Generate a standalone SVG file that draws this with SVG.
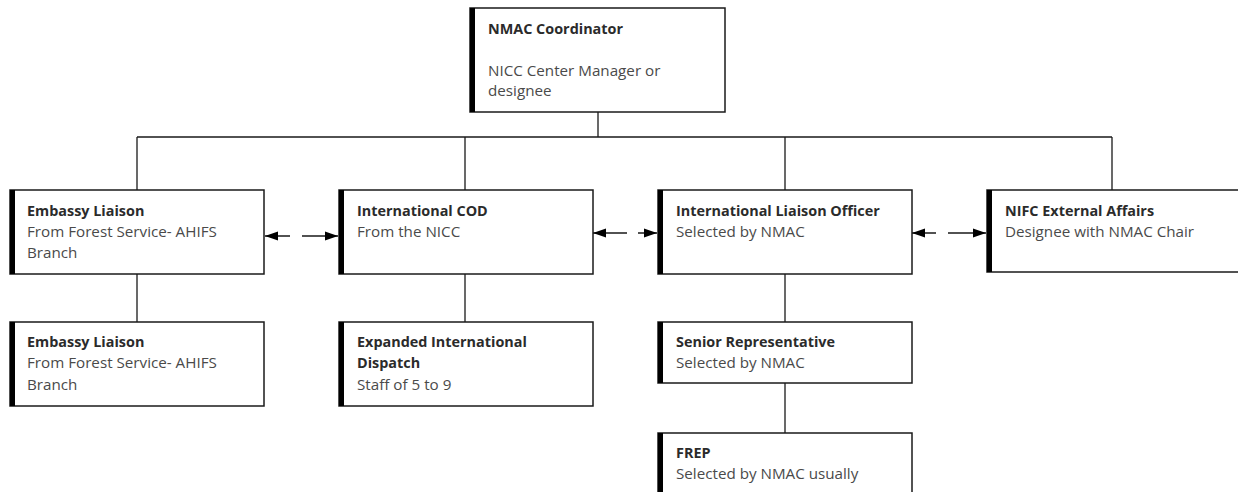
<svg xmlns="http://www.w3.org/2000/svg" width="1238" height="492" viewBox="0 0 1238 492">
<style>
.box{fill:#fff;stroke:#1a1a1a;stroke-width:1.5}
.bar{stroke:#000;stroke-width:5}
.t{font-family:"Open Sans","Liberation Sans",sans-serif;font-size:14.4px;font-weight:bold;fill:#2b2b2b}
.s{font-family:"Open Sans","Liberation Sans",sans-serif;font-size:15.2px;fill:#4a4a4a}
.c{stroke:#1a1a1a;stroke-width:1.3;fill:none}
.a{stroke:#1a1a1a;stroke-width:1.3;fill:none;marker-start:url(#ah);marker-end:url(#ah)}
</style>
<defs>
<marker id="ah" markerUnits="userSpaceOnUse" markerWidth="14" markerHeight="10" refX="13" refY="5" orient="auto-start-reverse">
<path d="M0,0.5 L13,5 L0,9.5 z" fill="#000"/>
</marker>
</defs>
<rect width="1238" height="492" fill="#fff"/>
<g id="connectors">
<path class="c" d="M598,112 V137 M137,137 H1112 M137,137 V190 M465,137 V190 M785,137 V190 M1112,137 V190"/>
<path class="c" d="M137,274 V322 M465,274 V322 M785,274 V322 M785,383 V433"/>
<line class="a" x1="265" y1="236" x2="338" y2="236" stroke-dasharray="25 12 60"/>
<line class="a" x1="593" y1="233" x2="657" y2="233" stroke-dasharray="34 11 60"/>
<line class="a" x1="912" y1="233" x2="986" y2="233" stroke-dasharray="24 12 60"/>
</g>
<g id="nmac">
<rect class="box" x="470" y="8" width="255" height="104"/>
<line class="bar" x1="472.5" y1="8" x2="472.5" y2="112"/>
<text class="t" x="488" y="34">NMAC Coordinator</text>
<text class="s" x="488" y="76">NICC Center Manager or</text>
<text class="s" x="488" y="96">designee</text>
</g>
<g id="embassy1">
<rect class="box" x="10" y="190" width="254" height="84"/>
<line class="bar" x1="12.5" y1="190" x2="12.5" y2="274"/>
<text class="t" x="27" y="216">Embassy Liaison</text>
<text class="s" x="27" y="237">From Forest Service- AHIFS</text>
<text class="s" x="27" y="258">Branch</text>
</g>
<g id="cod">
<rect class="box" x="339" y="190" width="254" height="84"/>
<line class="bar" x1="341.5" y1="190" x2="341.5" y2="274"/>
<text class="t" x="357" y="216">International COD</text>
<text class="s" x="357" y="237">From the NICC</text>
</g>
<g id="ilo">
<rect class="box" x="658" y="190" width="254" height="84"/>
<line class="bar" x1="660.5" y1="190" x2="660.5" y2="274"/>
<text class="t" x="676" y="216">International Liaison Officer</text>
<text class="s" x="676" y="237">Selected by NMAC</text>
</g>
<g id="nifc">
<rect class="box" x="987" y="190" width="256" height="82"/>
<line class="bar" x1="989.5" y1="190" x2="989.5" y2="272"/>
<text class="t" x="1005" y="216">NIFC External Affairs</text>
<text class="s" x="1005" y="237">Designee with NMAC Chair</text>
</g>
<g id="embassy2">
<rect class="box" x="10" y="322" width="254" height="84"/>
<line class="bar" x1="12.5" y1="322" x2="12.5" y2="406"/>
<text class="t" x="27" y="347">Embassy Liaison</text>
<text class="s" x="27" y="368">From Forest Service- AHIFS</text>
<text class="s" x="27" y="390">Branch</text>
</g>
<g id="expanded">
<rect class="box" x="339" y="322" width="254" height="84"/>
<line class="bar" x1="341.5" y1="322" x2="341.5" y2="406"/>
<text class="t" x="357" y="347">Expanded International</text>
<text class="t" x="357" y="368">Dispatch</text>
<text class="s" x="357" y="390">Staff of 5 to 9</text>
</g>
<g id="senior">
<rect class="box" x="658" y="322" width="254" height="61"/>
<line class="bar" x1="660.5" y1="322" x2="660.5" y2="383"/>
<text class="t" x="676" y="347">Senior Representative</text>
<text class="s" x="676" y="368">Selected by NMAC</text>
</g>
<g id="frep">
<rect class="box" x="658" y="433" width="254" height="70"/>
<line class="bar" x1="660.5" y1="433" x2="660.5" y2="503"/>
<text class="t" x="676" y="458">FREP</text>
<text class="s" x="676" y="479">Selected by NMAC usually</text>
</g>
</svg>
